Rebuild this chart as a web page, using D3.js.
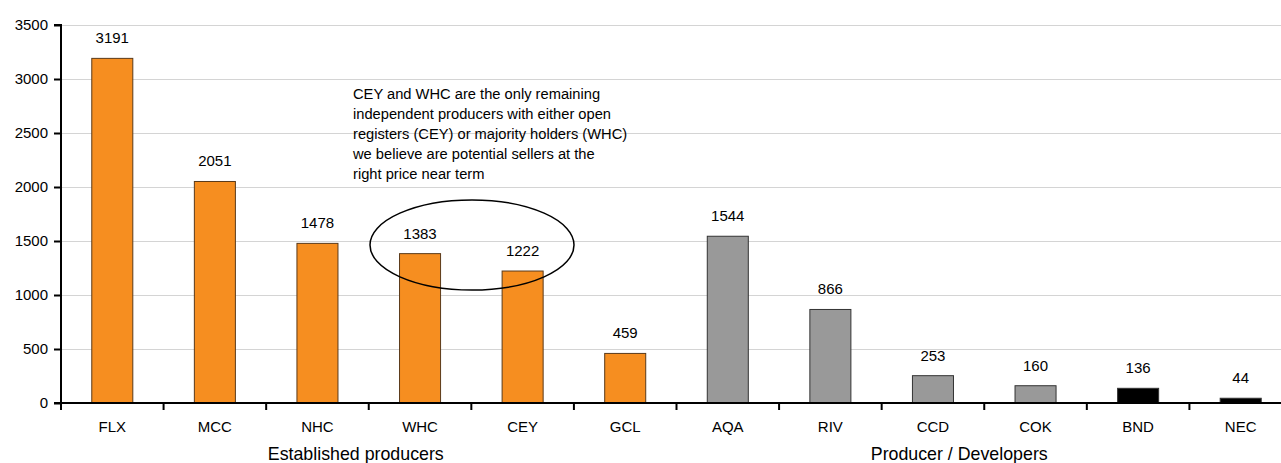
<!DOCTYPE html>
<html>
	<head>
		<style>
			body {
				margin: 0;
				background: #fff;
			}

			#chart {
				display: block;
				font-family: 'Liberation Sans', Arial, sans-serif;
			}
		</style>
	</head>
	<body>
		<svg id="chart" width="1281" height="463"></svg>
		<script src="https://cdnjs.cloudflare.com/ajax/libs/d3/7.8.5/d3.min.js"></script>

		<script>
			let categories = ['FLX', 'MCC', 'NHC', 'WHC', 'CEY', 'GCL', 'AQA', 'RIV', 'CCD', 'COK', 'BND', 'NEC'];
			let values = [3191, 2051, 1478, 1383, 1222, 459, 1544, 866, 253, 160, 136, 44];
			let groups = ['orange', 'orange', 'orange', 'orange', 'orange', 'orange', 'grey', 'grey', 'grey', 'grey', 'black', 'black'];
			let yTicks = [0, 500, 1000, 1500, 2000, 2500, 3000, 3500];
			let groupLabels = ['Established producers', 'Producer / Developers'];
			let note = [
				'CEY and WHC are the only remaining',
				'independent producers with either open',
				'registers (CEY) or majority holders (WHC)',
				'we believe are potential sellers at the',
				'right price near term',
			];

			let colors = {
				orange: '#f68e20',
				grey: '#999999',
				black: '#000000',
			};

			let margin = { left: 61, top: 25, bottom: 60 };
			let height = 463;
			let plotRight = 1292;

			let svg = d3.select('#chart');

			let x = d3
				.scaleBand()
				.domain(categories)
				.range([margin.left, plotRight])
				.paddingInner(0.6)
				.paddingOuter(0.3);

			let y = d3
				.scaleLinear()
				.domain([0, 3500])
				.range([height - margin.bottom, margin.top]);

			// gridlines
			svg.append('g')
				.selectAll('line')
				.data(yTicks.slice(1))
				.join('line')
				.attr('x1', margin.left)
				.attr('x2', 1281)
				.attr('y1', d => Math.round(y(d)) + 0.5)
				.attr('y2', d => Math.round(y(d)) + 0.5)
				.attr('stroke', '#d4d4d4')
				.attr('stroke-width', 1);

			// bars
			svg.append('g')
				.selectAll('rect')
				.data(values)
				.join('rect')
				.attr('x', (d, i) => x(categories[i]))
				.attr('width', x.bandwidth())
				.attr('y', d => y(d))
				.attr('height', d => y(0) - y(d))
				.attr('fill', (d, i) => colors[groups[i]])
				.attr('stroke', (d, i) => (groups[i] === 'orange' ? '#5a3a1a' : '#333'))
				.attr('stroke-width', 1);

			// value labels
			svg.append('g')
				.selectAll('text')
				.data(values)
				.join('text')
				.attr('x', (d, i) => x(categories[i]) + x.bandwidth() / 2)
				.attr('y', d => y(d) - 15)
				.attr('text-anchor', 'middle')
				.attr('font-size', 15)
				.attr('fill', '#000')
				.text(d => d);

			// y axis
			let yAxis = svg.append('g')
				.attr('transform', `translate(${margin.left},0)`)
				.call(d3.axisLeft(y).tickValues(yTicks).tickFormat(d3.format('d')).tickSize(7).tickPadding(6));
			yAxis.select('.domain').attr('stroke-width', 2).attr('d', `M-7,${y(3500)}H0V${y(0)}`);
			yAxis.selectAll('.tick line').attr('stroke-width', 2);
			yAxis.selectAll('text')
				.attr('font-size', 15)
				.attr('fill', '#000')
				.attr('font-family', 'Liberation Sans, Arial, sans-serif');

			// x axis
			let step = x.step();
			let boundaries = d3.range(categories.length + 1).map(i => margin.left + i * step);
			let xAxis = svg.append('g');
			xAxis.append('line')
				.attr('x1', margin.left - 7)
				.attr('x2', plotRight)
				.attr('y1', y(0))
				.attr('y2', y(0))
				.attr('stroke', '#000')
				.attr('stroke-width', 2);
			xAxis.selectAll('line.tk')
				.data(boundaries)
				.join('line')
				.attr('class', 'tk')
				.attr('x1', d => d)
				.attr('x2', d => d)
				.attr('y1', y(0))
				.attr('y2', y(0) + 7)
				.attr('stroke', '#000')
				.attr('stroke-width', 2);
			xAxis.selectAll('text')
				.data(categories)
				.join('text')
				.attr('x', d => x(d) + x.bandwidth() / 2)
				.attr('y', y(0) + 29)
				.attr('text-anchor', 'middle')
				.attr('font-size', 15)
				.text(d => d);

			// group labels
			svg.append('g')
				.selectAll('text')
				.data(groupLabels)
				.join('text')
				.attr('x', (d, i) => (i === 0 ? boundaries[3] - 13 : boundaries[9] - 25))
				.attr('y', 460)
				.attr('text-anchor', 'middle')
				.attr('font-size', 17.8)
				.text(d => d);

			// annotation
			svg.append('text')
				.attr('font-size', 14.7)
				.selectAll('tspan')
				.data(note)
				.join('tspan')
				.attr('x', 353)
				.attr('y', (d, i) => 99 + i * 20)
				.text(d => d);

			svg.append('ellipse')
				.attr('cx', 472)
				.attr('cy', 245)
				.attr('rx', 102)
				.attr('ry', 45)
				.attr('fill', 'none')
				.attr('stroke', '#000')
				.attr('stroke-width', 1.5);
		</script>
	</body>
</html>
